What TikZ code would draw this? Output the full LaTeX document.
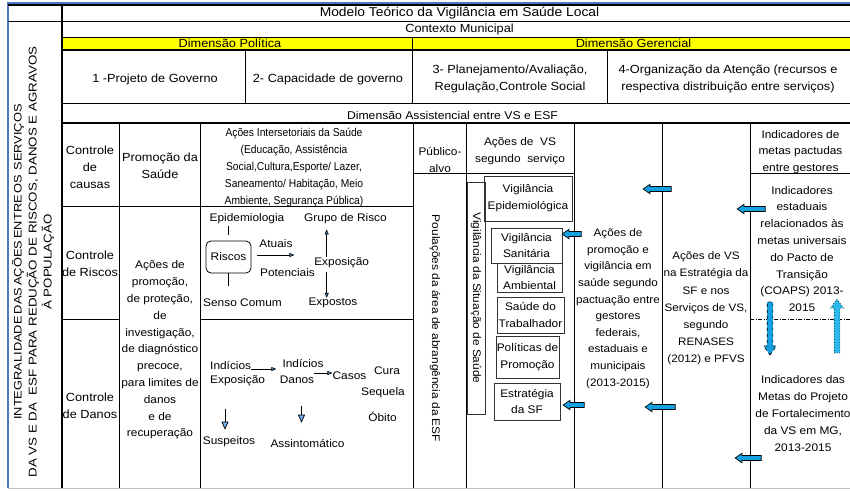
\documentclass[tikz,border=0pt]{standalone}
\usepackage{fontspec}
\setmainfont{Liberation Sans}[FakeStretch=1.08]
\newfontfamily\apertada{Liberation Sans}[FakeStretch=0.9]
\newfontfamily\alongada{Liberation Sans}[FakeStretch=1.18]
\usepackage{tikz}
\usetikzlibrary{arrows.meta, shapes.arrows, positioning}
\definecolor{amarelo}{RGB}{255,255,0}
\definecolor{azulseta}{RGB}{20,160,225}
\definecolor{azulclaro}{RGB}{45,185,235}
\definecolor{azulponta}{RGB}{110,175,230}
\definecolor{azulmoldura}{RGB}{75,120,190}

\begin{document}
\begin{tikzpicture}[x=1pt, y=-1pt,
    font=\fontsize{11}{16.8}\selectfont,
    txt/.style={align=center, inner sep=0pt},
    maior/.style={txt, font=\fontsize{11.8}{16.8}\selectfont},
    cabec/.style={txt, font=\fontsize{11.8}{17}\selectfont},
    linha/.style={line width=1pt},
    grossa/.style={line width=1.5pt},
    caixa/.style={draw=black!80, line width=0.8pt, align=center, inner sep=0pt},
    fina/.style={-{Triangle[fill=azulponta, length=5pt, width=4pt]}, line width=0.7pt},
    larga/.style={-{Triangle[fill=azulponta, length=8pt, width=7pt]}, line width=0.7pt},
    seta/.style={single arrow, draw=black, fill=azulseta, line width=0.7pt,
        inner xsep=0pt, inner ysep=2.2pt, single arrow head extend=2.2pt,
        single arrow tip angle=70},
  ]
        \useasboundingbox (0,0) rectangle (850,490);

        % Faixa amarela e moldura
        \fill[amarelo] (62,37) rectangle (850,50);
        \draw[azulmoldura, line width=1.5pt] (8,488) -- (8,3) -- (850,3);
        \draw[black!25, line width=1pt] (8,488.5) -- (850,488.5);

        % Linhas horizontais da tabela
        \draw[grossa] (8,5) -- (850,5);
        \draw[linha] (8,21) -- (850,21);
        \draw[linha] (62,37) -- (850,37);
        \draw[grossa] (62,50) -- (850,50);
        \draw[linha] (62,103) -- (850,103);
        \draw[grossa] (62,123) -- (850,123);
        \draw[linha] (62,206) -- (413,206);
        \draw[linha] (413,173) -- (574,173);
        \draw[linha] (750,173) -- (850,173);
        \draw[linha] (62,319) -- (119,319);
        \draw[linha] (200,319) -- (413,319);
        \draw[line width=0.8pt, dash pattern=on 4pt off 1.5pt on 1pt off 1.5pt] (750,319) -- (850,319); % tracejado

        % Linhas verticais da tabela
        \draw[grossa] (62,5) -- (62,488);
        \draw[linha] (245,50) -- (245,103);
        \draw[linha] (412,37) -- (412,103);
        \draw[linha] (607,50) -- (607,103);
        \foreach \x in {119,200,413,466,574,662,750}
            \draw[linha] (\x,123) -- (\x,488);

        % Cabeçalho
        \node[cabec, font=\fontsize{12.8}{17}\selectfont] (titulo) at (459.5,13) {Modelo Teórico da Vigilância em Saúde Local};
        \node[cabec] (contexto) at (459.5,29) {Contexto Municipal};
        \node[cabec] (dpolitica) at (230,44) {\underline{Dimensão Política}};
        \node[cabec] (dgerencial) at (633.5,44) {\underline{Dimensão Gerencial}};
        \node[cabec] (governo) at (155,79) {1 -Projeto de Governo};
        \node[cabec] (capacidade) at (328,79) {2- Capacidade de governo};
        \node[cabec] (planejamento) at (510,79) {3- Planejamento/Avaliação,\\Regulação,Controle Social};
        \node[cabec] (organizacao) at (728,79) {4-Organização da Atenção (recursos e\\respectiva distribuição entre serviços)};
        \node[cabec, font=\fontsize{11.3}{17}\selectfont] (assistencial) at (452.5,115) {Dimensão Assistencial entre VS e ESF};

        % Texto vertical à esquerda
        \node[txt, rotate=90, font=\alongada\fontsize{11.3}{15}\selectfont] (integralidade) at (33,262)
            {{\fontsize{10.9}{15}\selectfont\spaceskip=2pt INTEGRALIDADE DAS AÇÕES ENTRE OS\ \ SERVIÇOS}\\DA VS E DA~ ESF PARA REDUÇÃO DE RISCOS, DANOS E AGRAVOS\\À POPULAÇÃO};

        % Colunas de controle
        \node[maior] (causas) at (90,167) {Controle\\de\\causas};
        \node[maior] (criscos) at (90,264) {Controle\\de Riscos};
        \node[maior] (cdanos) at (90,406) {Controle\\de Danos};
        \node[maior] (promocao) at (160,166) {Promoção da\\Saúde};
        \node[txt] (acoesprom) at (160,350) {Ações de\\promoção,\\de proteção,\\de\\investigação,\\de diagnóstico\\precoce,\\para limites de\\danos\\e de\\recuperação};
        \node[txt, font=\apertada\fontsize{11.4}{17}\selectfont] (intersetor) at (294,168)
            {Ações Intersetoriais da Saúde\\(Educação, Assistência\\Social,Cultura,Esporte/ Lazer,\\Saneamento/ Habitação, Meio\\Ambiente, Segurança Pública)};

        % Riscos
        \node[txt] (epid) at (247,219) {Epidemiologia};
        \node[draw, rounded corners=5pt, line width=0.8pt, minimum width=45pt, minimum height=32pt, inner sep=0pt] (riscos) at (228.5,257) {Riscos};
        \node[txt] (senso) at (242.5,303) {Senso Comum};
        \node[txt] (atuais) at (276,244) {Atuais};
        \node[txt] (potenciais) at (287.5,273) {Potenciais};
        \node[txt] (grupo) at (345.5,219) {Grupo de Risco};
        \node[txt] (exposicao) at (341.7,262.7) {Exposição};
        \node[txt] (expostos) at (333,303) {Expostos};
        \draw[line width=0.7pt, shorten <=6pt, shorten >=2pt] (riscos.north) -- (riscos.north |- epid.south);
        \draw[line width=0.7pt, shorten >=13pt] (riscos.south) -- (riscos.south |- senso.north);
        \draw[fina] ([xshift=6pt,yshift=2pt]riscos.east) -- ++(37,0);
        \draw[fina, shorten >=5pt] ([xshift=-15pt]exposicao.north) -- ([xshift=-15pt]exposicao.north |- grupo.south);
        \draw[fina, shorten <=4pt] ([xshift=-15pt]exposicao.south) -- ([xshift=-15pt]exposicao.south |- expostos.north);

        % Danos
        \node[txt, anchor=west] (indexp) at (210,365) {Indícios};
        \node[txt, anchor=west] (exposic) at (210,381) {Exposição};
        \node[txt] (inddan) at (303,363) {Indícios};
        \node[txt] (danos) at (297,380) {Danos};
        \node[txt] (casos) at (349.5,376) {Casos};
        \node[txt] (cura) at (387,371) {Cura};
        \node[txt] (sequela) at (383,393) {Sequela};
        \node[txt] (obito) at (382.5,416.5) {Óbito};
        \node[txt] (suspeitos) at (229,442) {Suspeitos};
        \node[txt] (assint) at (307.5,443) {Assintomático};
        \draw[fina, shorten >=6pt] ([yshift=-4pt]indexp.east) -- ([yshift=-4pt]indexp.east -| inddan.west);
        \draw[fina] ([yshift=7pt]danos.east) -- ([yshift=7pt]danos.east -| casos.west);
        \draw[larga] ([xshift=-4pt]suspeitos.north) ++(0,-28) -- ++(0,21);
        \draw[larga] ([xshift=-6pt]assint.north) ++(0,-33) -- ++(0,17);

        % Público-alvo e ações de VS
        \node[txt] (publico) at (440,160) {Público-\\alvo};
        \node[txt, rotate=-90] (populacoes) at (435,328.5) {Poulações da área de abrangência da ESF};
        \node[txt] (acoesvs) at (520,151) {Ações de\ \ VS\\segundo\ \ serviço};
        \node[caixa, rotate=-90, minimum width=232pt, minimum height=18pt] (vsituacao) at (476,298) {Vigilância da Situação de Saúde};
        \node[caixa, minimum width=88pt, minimum height=45pt] (vepid) at (528,198.5) {Vigilância\\Epidemiológica};
        \node[caixa, minimum width=71pt, minimum height=35pt] (vsan) at (526.5,245.5) {Vigilância\\Sanitária};
        \node[caixa, minimum width=65pt, minimum height=29pt] (vamb) at (529.5,277.5) {Vigilância\\Ambiental};
        \node[caixa, minimum width=67pt, minimum height=36pt] (vtrab) at (530.5,315) {Saúde do\\Trabalhador};
        \node[caixa, minimum width=63pt, minimum height=42pt] (vpol) at (527.5,357) {Políticas de\\Promoção};
        \node[caixa, minimum width=66pt, minimum height=37pt] (vesf) at (527,401.5) {Estratégia\\da SF};

        % Colunas da direita
        \node[txt, font=\fontsize{10.8}{16.6}\selectfont] (acoespv) at (618,308.5) {Ações de\\promoção e\\vigilância em\\saúde segundo\\pactuação entre\\gestores\\federais,\\estaduais e\\municipais\\(2013-2015)};
        \node[txt, font=\fontsize{10.8}{17.2}\selectfont] (acoesest) at (706,308.5) {Ações de VS\\na Estratégia da\\SF e nos\\Serviços de VS,\\segundo\\RENASES\\(2012) e PFVS};
        \node[txt] (indmetas) at (800.5,152) {Indicadores de\\metas pactudas\\entre gestores};
        \node[txt] (indest) at (802,249) {Indicadores\\estaduais\\relacionados às\\metas universais\\do Pacto de\\Transição\\(COAPS) 2013-\\2015};
        \node[txt] (indmg) at (803,413.5) {Indicadores das\\Metas do Projeto\\de Fortalecimento\\da VS em MG,\\2013-2015};

        % Setas de bloco
        \node[seta, rotate=180, minimum height=19pt] (setasan) at (573.5,234) {};
        \node[seta, rotate=180, minimum height=21pt] (setaesf) at (575.5,405) {};
        \node[seta, rotate=180, minimum height=28pt] (setapv1) at (659,189) {};
        \node[seta, rotate=180, minimum height=30pt] (setapv2) at (662,407) {};
        \node[seta, rotate=180, minimum height=28pt] (setaind1) at (753,209) {};
        \node[seta, rotate=180, minimum height=26pt] (setaind2) at (750,458) {};
        \node[seta, rotate=-90, dashed, minimum height=53pt, inner ysep=2.5pt, single arrow head extend=3.5pt] (setadesce) at (770,326.5) {};
        \node[seta, rotate=90, dotted, fill=azulclaro, minimum height=54pt, inner ysep=2.5pt, single arrow head extend=3.5pt] (setasobe) at (837,328) {};

\end{tikzpicture}
\end{document}
